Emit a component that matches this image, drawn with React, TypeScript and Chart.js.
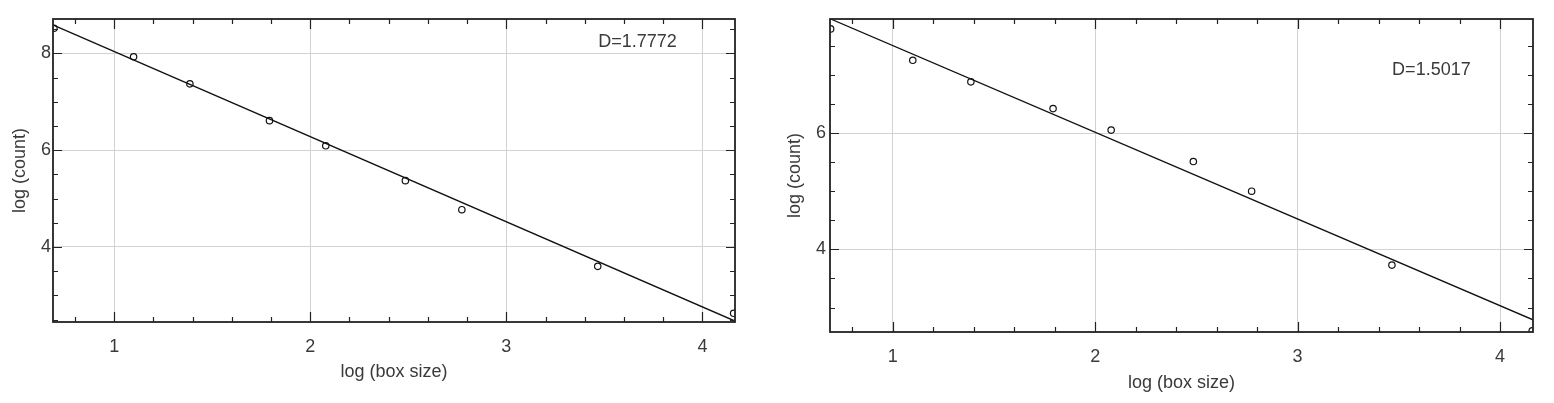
import React, { useEffect, useRef } from 'react';
import { Chart, registerables } from 'chart.js';
Chart.register(...registerables);

// log(box size) for box sizes 2,3,4,6,8,12,16,32,64
const logBoxSize = [0.693, 1.099, 1.386, 1.792, 2.079, 2.485, 2.773, 3.466, 4.159];
const logCountA = [8.52, 7.93, 7.37, 6.61, 6.09, 5.37, 4.77, 3.6, 2.63];
const logCountB = [7.79, 7.25, 6.88, 6.42, 6.05, 5.51, 5.0, 3.73, 2.6];
const fitXA = [0.693, 4.166];
const fitYA = [8.58, 2.47];
const fitXB = [0.693, 4.163];
const fitYB = [7.96, 2.79];
const labelA = 'D=1.7772';
const labelB = 'D=1.5017';
const xMajor = [1, 2, 3, 4];
const xMinor = [0.8, 1.2, 1.4, 1.6, 1.8, 2.2, 2.4, 2.6, 2.8, 3.2, 3.4, 3.6, 3.8, 4.2];
const yMajor = [4, 6, 8];
const yMinor = [2.5, 3, 3.5, 4.5, 5, 5.5, 6.5, 7, 7.5, 8.5];

const FONT = "'Liberation Sans', Arial, sans-serif";
const TEXT = '#3a3a3a';

type Cfg = {
  left: number; width: number;
  xs: number[]; ys: number[]; fx: number[]; fy: number[];
  label: string; labelX: number; labelY: number;
  xMin: number; xMax: number; yMin: number; yMax: number;
  pad: { left: number; right: number; top: number; bottom: number };
  yW: number; xH: number; yTickPad: number;
};

const framePlugin = {
  id: 'frame',
  afterDatasetsDraw(chart: any, _a: any, opts: any) {
    const { ctx, chartArea: ca, scales } = chart;
    const xs = scales.x, ys = scales.y;
    ctx.save();
    ctx.strokeStyle = '#222';
    ctx.lineWidth = 1.2;
    const tick = (vals: number[], len: number) => {
      for (const v of vals) {
        if (v < xs.min || v > xs.max) continue;
        const px = Math.round(xs.getPixelForValue(v)) + 0.5;
        ctx.beginPath();
        ctx.moveTo(px, ca.bottom); ctx.lineTo(px, ca.bottom - len);
        ctx.moveTo(px, ca.top); ctx.lineTo(px, ca.top + len);
        ctx.stroke();
      }
    };
    const ytick = (vals: number[], len: number) => {
      for (const v of vals) {
        if (v < ys.min || v > ys.max) continue;
        const py = Math.round(ys.getPixelForValue(v)) + 0.5;
        ctx.beginPath();
        ctx.moveTo(ca.left, py); ctx.lineTo(ca.left + len, py);
        ctx.moveTo(ca.right, py); ctx.lineTo(ca.right - len, py);
        ctx.stroke();
      }
    };
    tick(xMajor, 10); tick(xMinor, 5);
    ytick(yMajor, 9); ytick(yMinor, 5);
    ctx.lineWidth = 1.8;
    ctx.strokeRect(ca.left, ca.top, ca.right - ca.left, ca.bottom - ca.top);
    ctx.fillStyle = TEXT;
    ctx.font = `18px ${FONT}`;
    ctx.textBaseline = 'middle';
    ctx.textAlign = 'left';
    ctx.fillText(opts.text, xs.getPixelForValue(opts.x), ys.getPixelForValue(opts.y));
    ctx.restore();
  },
};

function FractalChart({ cfg }: { cfg: Cfg }) {
  const ref = useRef<HTMLCanvasElement>(null);
  useEffect(() => {
    if (!ref.current) return;
    const chart = new Chart(ref.current, {
      type: 'scatter',
      data: {
        datasets: [
          {
            type: 'line',
            data: cfg.fx.map((x, i) => ({ x, y: cfg.fy[i] })),
            borderColor: '#111',
            borderWidth: 1.3,
            pointRadius: 0,
            fill: false,
            clip: 0,
          } as any,
          {
            data: cfg.xs.map((x, i) => ({ x, y: cfg.ys[i] })),
            pointStyle: 'circle',
            pointRadius: 3.2,
            borderColor: '#111',
            backgroundColor: 'rgba(255,255,255,0)',
            borderWidth: 1.2,
            clip: 0,
          } as any,
        ],
      },
      options: {
        animation: false,
        responsive: false,
        events: [],
        layout: { padding: cfg.pad },
        plugins: {
          legend: { display: false },
          tooltip: { enabled: false },
          frame: { text: cfg.label, x: cfg.labelX, y: cfg.labelY },
        } as any,
        scales: {
          x: {
            type: 'linear',
            min: cfg.xMin,
            max: cfg.xMax,
            afterBuildTicks: (s: any) => {
              s.ticks = xMajor.filter((v) => v >= cfg.xMin && v <= cfg.xMax).map((v) => ({ value: v }));
            },
            afterFit: (s: any) => { s.height = cfg.xH; },
            grid: { color: '#d2d2d2', lineWidth: 1, drawTicks: false },
            border: { display: false },
            ticks: { color: TEXT, font: { family: FONT, size: 18 }, padding: 14, maxRotation: 0, autoSkip: false },
            title: { display: true, text: 'log (box size)', color: TEXT, font: { family: FONT, size: 18 }, padding: 0 },
          },
          y: {
            type: 'linear',
            min: cfg.yMin,
            max: cfg.yMax,
            afterBuildTicks: (s: any) => {
              s.ticks = yMajor.filter((v) => v >= cfg.yMin && v <= cfg.yMax).map((v) => ({ value: v }));
            },
            afterFit: (s: any) => { s.width = cfg.yW; },
            grid: { color: '#d2d2d2', lineWidth: 1, drawTicks: false },
            border: { display: false },
            ticks: { color: TEXT, font: { family: FONT, size: 18 }, padding: cfg.yTickPad, autoSkip: false },
            title: { display: true, text: 'log (count)', color: TEXT, font: { family: FONT, size: 18 }, padding: 0 },
          },
        },
      },
      plugins: [framePlugin],
    });
    return () => chart.destroy();
  }, [cfg]);
  return (
    <canvas
      ref={ref}
      width={cfg.width}
      height={403}
      style={{ position: 'absolute', left: cfg.left, top: 0, width: cfg.width, height: 403 }}
    />
  );
}

const cfgA: Cfg = {
  left: 0, width: 760,
  xs: logBoxSize, ys: logCountA, fx: fitXA, fy: fitYA,
  label: labelA, labelX: 3.468, labelY: 8.23,
  xMin: 0.688, xMax: 4.166, yMin: 2.45, yMax: 8.71,
  pad: { left: 9, right: 25, top: 19, bottom: 20 },
  yW: 44, xH: 61, yTickPad: 2,
};
const cfgB: Cfg = {
  left: 770, width: 784,
  xs: logBoxSize, ys: logCountB, fx: fitXB, fy: fitYB,
  label: labelB, labelX: 3.467, labelY: 7.09,
  xMin: 0.69, xMax: 4.163, yMin: 2.58, yMax: 7.96,
  pad: { left: 14, right: 21, top: 19, bottom: 9 },
  yW: 46, xH: 62, yTickPad: 4,
};

export default function App() {
  return (
    <div style={{ position: 'fixed', left: 0, top: 0, width: 1554, height: 403, background: '#fff' }}>
      <FractalChart cfg={cfgA} />
      <FractalChart cfg={cfgB} />
    </div>
  );
}
